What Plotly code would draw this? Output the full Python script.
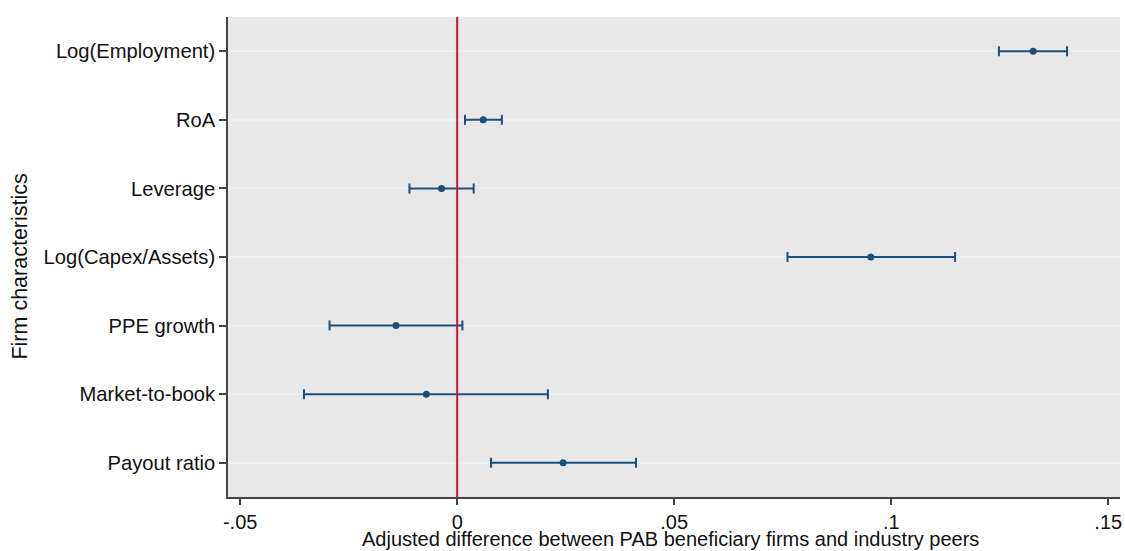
import plotly.graph_objects as go

# Firm characteristics, listed bottom to top as drawn on the y axis
characteristics = ["Payout ratio", "Market-to-book", "PPE growth", "Log(Capex/Assets)",
                   "Leverage", "RoA", "Log(Employment)"]
estimate = [0.0244, -0.0071, -0.0141, 0.0953, -0.0036, 0.0060, 0.1327]
ci_low = [0.0078, -0.0353, -0.0294, 0.0761, -0.0110, 0.0018, 0.1248]
ci_high = [0.0412, 0.0209, 0.0012, 0.1147, 0.0038, 0.0103, 0.1405]

x_tickvals = [-0.05, 0, 0.05, 0.1, 0.15]
x_ticktext = ["-.05", "0", ".05", ".1", ".15"]

x_title = "Adjusted difference between PAB beneficiary firms and industry peers"
y_title = "Firm characteristics"

navy = "#1f4e79"
font_family = "Arial, Liberation Sans, sans-serif"

fig = go.Figure()

fig.add_trace(go.Scatter(
    x=estimate,
    y=list(range(len(characteristics))),
    mode="markers",
    marker=dict(color=navy, size=7),
    error_x=dict(
        type="data",
        symmetric=False,
        array=[h - e for h, e in zip(ci_high, estimate)],
        arrayminus=[e - l for e, l in zip(estimate, ci_low)],
        color=navy,
        thickness=2,
        width=5,
    ),
    showlegend=False,
))

# Reference line at zero
fig.add_shape(type="line", xref="x", yref="paper", x0=0, x1=0, y0=0, y1=1,
              line=dict(color="#d0103a", width=2), layer="above")

# Axis titles placed as annotations for tight control of their position
fig.add_annotation(text=x_title, xref="paper", yref="paper", x=0.4966, y=-0.0875,
                   xanchor="center", yanchor="middle", showarrow=False,
                   font=dict(size=20))
fig.add_annotation(text=y_title, xref="paper", yref="paper", x=-0.2327, y=0.481,
                   xanchor="center", yanchor="middle", showarrow=False, textangle=-90,
                   font=dict(size=21.5))

fig.update_layout(
    width=1125, height=551,
    margin=dict(l=228, r=3, t=17, b=54),
    paper_bgcolor="white",
    plot_bgcolor="#e8e8e8",
    font=dict(family=font_family, size=20, color="#111111"),
    xaxis=dict(
        range=[-0.0528, 0.1527],
        tickvals=x_tickvals, ticktext=x_ticktext,
        ticks="outside", ticklen=6, tickwidth=1.5, tickcolor="#444444",
        showline=True, linecolor="#444444", linewidth=1.5,
        showgrid=False, zeroline=False,
        tickfont=dict(size=20),
    ),
    yaxis=dict(
        range=[-0.5, 6.5],
        tickvals=list(range(len(characteristics))), ticktext=characteristics,
        ticks="outside", ticklen=7, tickwidth=1.5, tickcolor="#444444",
        showline=True, linecolor="#444444", linewidth=1.5,
        showgrid=True, gridcolor="#eaf1f3", gridwidth=1.5,
        zeroline=False,
        tickfont=dict(size=20.2),
    ),
)

fig.write_html("out.html")
